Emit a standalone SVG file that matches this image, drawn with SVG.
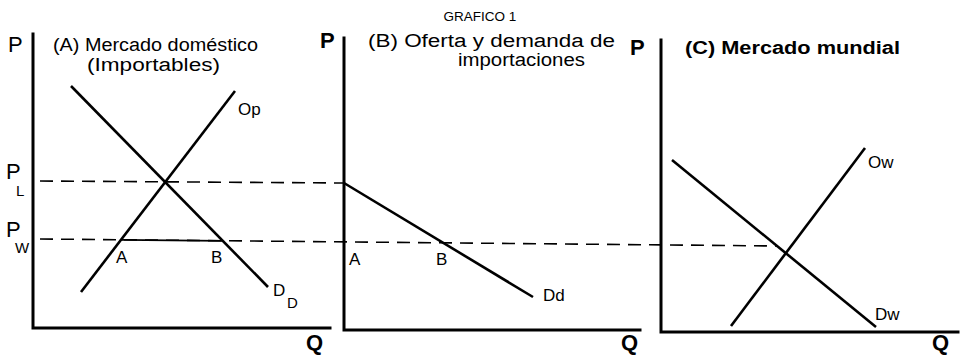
<svg xmlns="http://www.w3.org/2000/svg" width="962" height="355" viewBox="0 0 962 355">
<style>
.ax{stroke:#000;stroke-width:3;fill:none;stroke-linecap:square}
.cv{stroke:#000;stroke-width:2.6;fill:none}
.ds{stroke:#000;stroke-width:1.6;fill:none;stroke-dasharray:13 8}
.sl{stroke:#000;stroke-width:1.8;fill:none}
text{font-family:"Liberation Sans",Arial,sans-serif;fill:#000}
.big{font-size:22px}
.bb{font-size:22px;font-weight:bold}
.ttl{font-size:18px}
.lb{font-size:17px}
.sub{font-size:15px}
</style>
<rect width="962" height="355" fill="#fff"/>
<text x="480" y="21" text-anchor="middle" font-size="13.5">GRAFICO 1</text>
<g id="connectors">
<line class="ds" x1="40" y1="181" x2="344" y2="183"/>
<line class="ds" x1="40" y1="239" x2="778" y2="246"/>
<line class="sl" x1="120" y1="239.8" x2="222" y2="240.8"/>
</g>
<g id="panelA">
<polyline class="ax" points="33,34 33,328 330,328"/>
<text class="big" x="8" y="52">P</text>
<text class="ttl" x="53" y="51" textLength="205" lengthAdjust="spacingAndGlyphs">(A) Mercado doméstico</text>
<text class="ttl" x="87" y="71" textLength="133" lengthAdjust="spacingAndGlyphs">(Importables)</text>
<line class="cv" x1="71" y1="86" x2="268" y2="287"/>
<line class="cv" x1="81" y1="292" x2="235" y2="91"/>
<text class="lb" x="238" y="115">Op</text>
<text class="lb" x="116" y="263">A</text>
<text class="lb" x="211" y="263">B</text>
<text class="lb" x="273" y="296">D</text>
<text class="sub" x="287" y="308">D</text>
<text class="big" x="6" y="179">P</text>
<text class="sub" x="16" y="196">L</text>
<text class="big" x="6" y="237">P</text>
<text class="sub" x="15" y="253">W</text>
<text class="bb" x="306" y="350">Q</text>
</g>
<g id="panelB">
<polyline class="ax" points="344,38 344,330 640,330"/>
<text class="bb" x="320" y="48">P</text>
<text class="ttl" x="368" y="47" textLength="247" lengthAdjust="spacingAndGlyphs">(B) Oferta y demanda de</text>
<text class="ttl" x="458" y="66" textLength="127" lengthAdjust="spacingAndGlyphs">importaciones</text>
<line class="cv" x1="344" y1="183" x2="533" y2="297"/>
<text class="lb" x="349" y="265">A</text>
<text class="lb" x="436" y="265">B</text>
<text class="lb" x="543" y="301">Dd</text>
<text class="bb" x="621" y="350">Q</text>
</g>
<g id="panelC">
<polyline class="ax" points="661,40 661,332 958,332"/>
<text class="bb" x="630" y="55">P</text>
<text class="ttl" x="685" y="54" textLength="215" lengthAdjust="spacingAndGlyphs" font-weight="bold">(C) Mercado mundial</text>
<line class="cv" x1="672" y1="160" x2="876" y2="327"/>
<line class="cv" x1="731" y1="326" x2="865" y2="148"/>
<text class="lb" x="868" y="168">Ow</text>
<text class="lb" x="875" y="320">Dw</text>
<text class="bb" x="932" y="350">Q</text>
</g>
</svg>
